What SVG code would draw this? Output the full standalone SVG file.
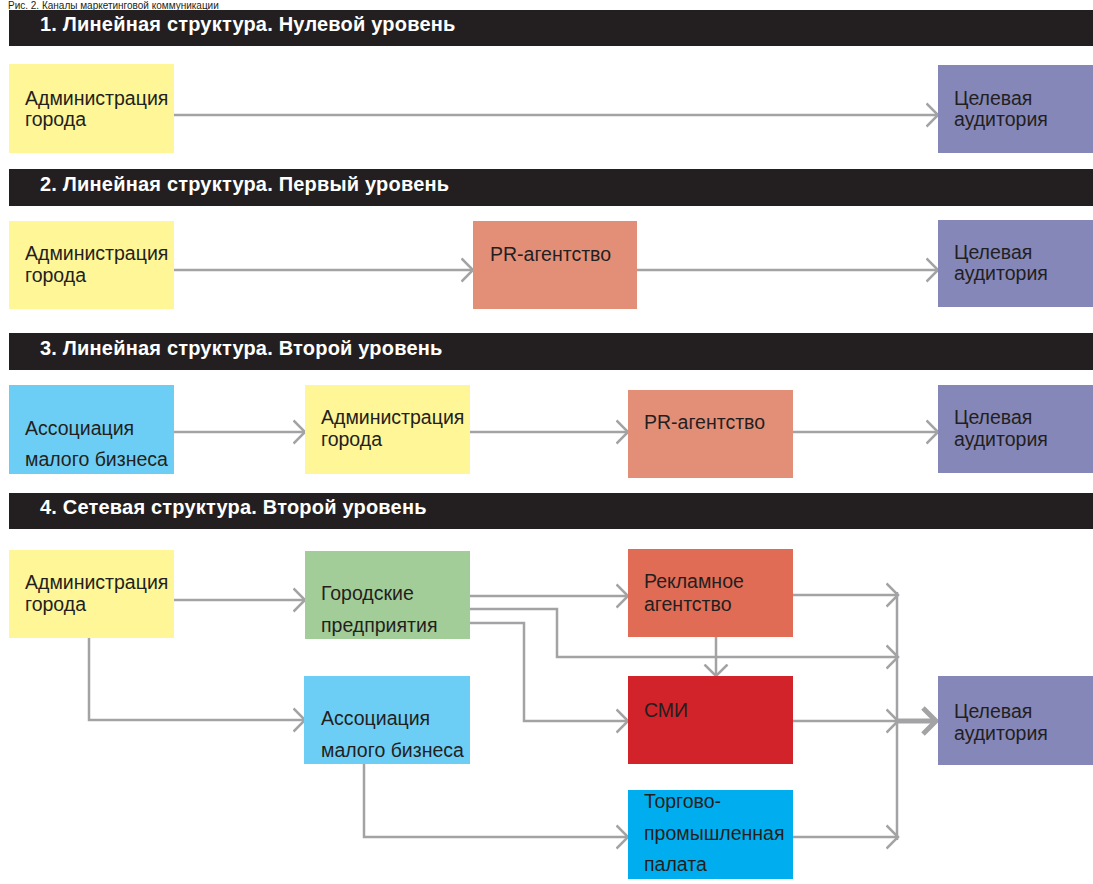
<svg xmlns="http://www.w3.org/2000/svg" width="1093" height="884" viewBox="0 0 1093 884">
<defs>
<style>
.bar{fill:#231f20}
.bt{font-family:"Liberation Sans",Arial,sans-serif;font-weight:bold;font-size:20px;letter-spacing:0.2px;fill:#ffffff}
.t{font-family:"Liberation Sans",Arial,sans-serif;font-size:19.5px;fill:#231f20}
.c{fill:none;stroke:#a3a3a5;stroke-width:2.5}
.yel{fill:#fff697}.lav{fill:#8687b9}.pr{fill:#e38f78}.blu{fill:#6dcef5}
.grn{fill:#a3cd98}.rek{fill:#e06c55}.smi{fill:#d2232a}.tpp{fill:#00aeef}
</style>
<marker id="ah" markerUnits="userSpaceOnUse" viewBox="0 0 14 26" refX="12.5" refY="13" markerWidth="14" markerHeight="26" orient="auto">
<path d="M1,1.5 L12.5,13 L1,24.5" fill="none" stroke="#a3a3a5" stroke-width="2.5"/>
</marker>
<marker id="ahb" markerUnits="userSpaceOnUse" viewBox="0 0 18 30" refX="15" refY="15" markerWidth="18" markerHeight="30" orient="auto">
<path d="M2,2 L15,15 L2,28" fill="none" stroke="#a3a3a5" stroke-width="5"/>
</marker>
</defs>
<rect width="1093" height="884" fill="#ffffff"/>
<text x="8" y="8.5" font-family="Liberation Sans,Arial,sans-serif" font-size="10" fill="#231f20">Рис. 2. Каналы маркетинговой коммуникации</text>

<g id="header1"><rect class="bar" x="9" y="10" width="1084" height="36"/><text class="bt" x="40" y="31">1. Линейная структура. Нулевой уровень</text></g>
<g id="header2"><rect class="bar" x="9" y="169" width="1084" height="37"/><text class="bt" x="40" y="191">2. Линейная структура. Первый уровень</text></g>
<g id="header3"><rect class="bar" x="9" y="333" width="1084" height="37"/><text class="bt" x="40" y="355">3. Линейная структура. Второй уровень</text></g>
<g id="header4"><rect class="bar" x="9" y="493" width="1084" height="36"/><text class="bt" x="40" y="514">4. Сетевая структура. Второй уровень</text></g>

<g id="connectors">
<path class="c" d="M174,115 H938" marker-end="url(#ah)"/>
<path class="c" d="M174,270 H473" marker-end="url(#ah)"/>
<path class="c" d="M637,270 H938" marker-end="url(#ah)"/>
<path class="c" d="M174,432 H305" marker-end="url(#ah)"/>
<path class="c" d="M470,432 H628" marker-end="url(#ah)"/>
<path class="c" d="M793,432 H938" marker-end="url(#ah)"/>
<path class="c" d="M174,600 H305" marker-end="url(#ah)"/>
<path class="c" d="M89,638 V720 H305" marker-end="url(#ah)"/>
<path class="c" d="M470,596 H628" marker-end="url(#ah)"/>
<path class="c" d="M470,609 H557 V657 H898" marker-end="url(#ah)"/>
<path class="c" d="M470,623 H524 V721 H628" marker-end="url(#ah)"/>
<path class="c" d="M716,637 V676" marker-end="url(#ah)"/>
<path class="c" d="M793,595 H898" marker-end="url(#ah)"/>
<path class="c" d="M793,721 H898" marker-end="url(#ah)"/>
<path class="c" d="M364,752 V837 H628" marker-end="url(#ah)"/>
<path class="c" d="M793,837 H898" marker-end="url(#ah)"/>
<path class="c" d="M897,592 V840"/>
<path fill="none" stroke="#a3a3a5" stroke-width="5" d="M897,721 H936" marker-end="url(#ahb)"/>
</g>

<g id="r1-admin"><rect class="yel" x="9" y="64" width="165" height="89"/><text class="t" x="25" y="105">Администрация</text><text class="t" x="25" y="126">города</text></g>
<g id="r1-target"><rect class="lav" x="938" y="65" width="155" height="88"/><text class="t" x="954" y="105">Целевая</text><text class="t" x="954" y="126">аудитория</text></g>

<g id="r2-admin"><rect class="yel" x="9" y="221" width="165" height="88"/><text class="t" x="25" y="260">Администрация</text><text class="t" x="25" y="282">города</text></g>
<g id="r2-pr"><rect class="pr" x="473" y="221" width="164" height="88"/><text class="t" x="490" y="261">PR-агентство</text></g>
<g id="r2-target"><rect class="lav" x="938" y="220" width="155" height="87"/><text class="t" x="954" y="259">Целевая</text><text class="t" x="954" y="280">аудитория</text></g>

<g id="r3-assoc"><rect class="blu" x="9" y="385" width="165" height="89"/><text class="t" x="25" y="435">Ассоциация</text><text class="t" x="25" y="466">малого бизнеса</text></g>
<g id="r3-admin"><rect class="yel" x="305" y="385" width="165" height="89"/><text class="t" x="321" y="424">Администрация</text><text class="t" x="321" y="446">города</text></g>
<g id="r3-pr"><rect class="pr" x="628" y="390" width="165" height="88"/><text class="t" x="644" y="429">PR-агентство</text></g>
<g id="r3-target"><rect class="lav" x="938" y="385" width="155" height="88"/><text class="t" x="954" y="424">Целевая</text><text class="t" x="954" y="446">аудитория</text></g>

<g id="r4-admin"><rect class="yel" x="9" y="550" width="165" height="88"/><text class="t" x="25" y="589">Администрация</text><text class="t" x="25" y="611">города</text></g>
<g id="r4-city"><rect class="grn" x="305" y="551" width="165" height="88"/><text class="t" x="321" y="600">Городские</text><text class="t" x="321" y="632">предприятия</text></g>
<g id="r4-adv"><rect class="rek" x="628" y="549" width="165" height="88"/><text class="t" x="644" y="588">Рекламное</text><text class="t" x="644" y="611">агентство</text></g>
<g id="r4-assoc"><rect class="blu" x="304" y="676" width="166" height="88"/><text class="t" x="321" y="725">Ассоциация</text><text class="t" x="321" y="757">малого бизнеса</text></g>
<g id="r4-media"><rect class="smi" x="628" y="676" width="165" height="88"/><text class="t" x="644" y="717">СМИ</text></g>
<g id="r4-chamber"><rect class="tpp" x="628" y="790" width="165" height="89"/><text class="t" x="644" y="808">Торгово-</text><text class="t" x="644" y="840">промышленная</text><text class="t" x="644" y="871">палата</text></g>
<g id="r4-target"><rect class="lav" x="938" y="676" width="155" height="89"/><text class="t" x="954" y="718">Целевая</text><text class="t" x="954" y="740">аудитория</text></g>
</svg>
